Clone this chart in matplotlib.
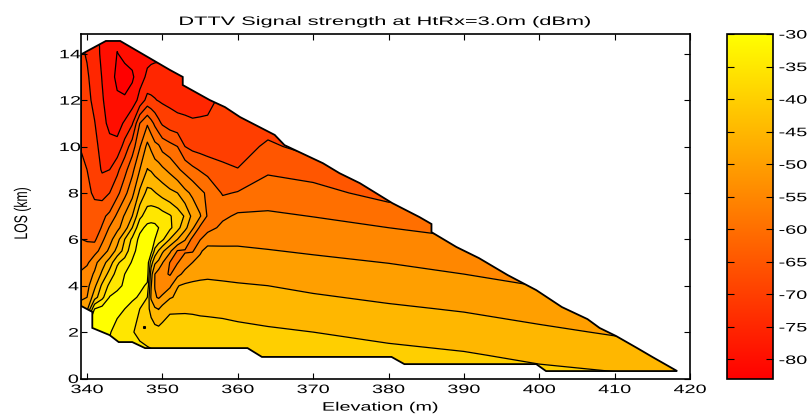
import numpy as np
import matplotlib
matplotlib.use('Agg')
import matplotlib.pyplot as plt
from matplotlib.cm import ScalarMappable
from matplotlib.colors import Normalize
from matplotlib.patches import Polygon
from matplotlib.patheffects import AbstractPathEffect
from matplotlib.transforms import Affine2D

plt.rcParams['font.family'] = ['Liberation Sans', 'DejaVu Sans']

title = 'DTTV Signal strength at HtRx=3.0m (dBm)'
elevation = [339, 340, 341, 342, 343, 344, 345, 346, 347, 348, 348.5, 349, 349.5, 350,
             351, 352, 353, 354, 355, 356, 358, 360, 364, 370, 380, 390, 400, 410, 420]
los = [0, 1, 2, 3, 3.5, 4, 4.5, 5, 5.5, 6, 6.5, 7, 8, 9, 10, 11, 12, 13, 14, 15]

# dBm, one row per entry of los, one column per elevation
signal = [
    [-33, -33, -33, -33, -33, -33, -33, -33, -33, -33, -33, -33, -33, -33,
     -33, -33, -33, -33, -33, -33, -33, -33, -33.3, -34, -35.6, -36.6, -38.2, -39, -39.6],
    [-31, -31, -31, -31, -31, -31, -31, -31, -31, -34, -34, -34, -34, -34.2,
     -34.8, -35.2, -35.4, -35.6, -35.7, -35.8, -36, -36.1, -36.3, -37, -38.5, -39.5, -41.1, -42.4, -44],
    [-27, -27, -27, -27.5, -29.7, -31.4, -33, -34.3, -37.5, -36.6, -37.4, -37.9, -38.2, -37.8,
     -37.3, -37.4, -37.6, -37.7, -37.9, -38, -38.3, -38.7, -39.3, -40, -41.4, -42.5, -44, -45.5, -47],
    [-48, -46.5, -30, -28, -28, -29, -30, -33, -35, -38.5, -41.5, -44.3, -45.2, -43.1,
     -40.8, -40.7, -40.6, -40.7, -40.9, -41, -41.2, -41.6, -42.2, -43, -44.3, -45.4, -47, -49, -50],
    [-51, -50, -42.2, -36.4, -29.7, -27.8, -27.8, -28.5, -31, -35, -45.8, -49.5, -50.5, -49,
     -45.5, -44.2, -42.4, -42.4, -42.4, -42.5, -42.7, -43.1, -43.7, -44.5, -45.8, -47, -48.5, -50.5, -51.5],
    [-53.5, -51.5, -46.2, -39, -33.8, -31.7, -29, -28.3, -28.3, -31, -44.7, -50.2, -54, -53.6,
     -51, -45.2, -44.2, -44.2, -44.1, -44, -44.3, -44.6, -45, -46, -47.2, -48.4, -50.1, -52, -53],
    [-54.5, -52.3, -49.4, -44, -38, -33, -30, -28.3, -27.7, -27.5, -43, -50, -52.5, -53.6,
     -55.5, -51.5, -48.5, -46.5, -46, -45.8, -46, -46.2, -46.7, -47.5, -48.6, -50, -51.6, -53.5, -54.5],
    [-57, -56, -51.5, -47.2, -42.7, -35.8, -32.9, -29.5, -27.5, -27, -37.5, -44.2, -46.2, -49.7,
     -55.2, -55.3, -52.3, -50, -48.7, -47.5, -47.4, -47.8, -48.2, -49, -50.1, -51.5, -53, -55, -56],
    [-58.4, -58, -57, -53, -48.8, -43.4, -38, -31.5, -28, -27, -28, -36.5, -40.4, -44,
     -48.9, -55.3, -55.6, -55.6, -50.6, -48.5, -49.1, -49.3, -49.8, -50.5, -51.6, -53, -54.5, -56.5, -57.5],
    [-59.8, -60.5, -61, -56, -51.8, -47, -40, -34, -28.5, -27, -27.5, -30, -32, -34,
     -40.2, -45, -49.5, -56.5, -55.3, -52, -51.3, -51, -51.3, -52.1, -53.1, -54.7, -56, -58, -59],
    [-60.9, -61.5, -62, -59.7, -54.5, -51.4, -47.5, -40, -31.5, -28.7, -28.5, -29, -30, -31.2,
     -33.9, -38.2, -43.6, -49, -56, -57, -53.7, -52.5, -52.7, -53.6, -55, -56.5, -58, -60, -61],
    [-62, -63, -62.5, -61, -58.9, -53.9, -49.4, -45, -36.2, -32.5, -32, -31.8, -32, -33,
     -34.5, -37.5, -40.5, -46.5, -49.5, -55.6, -56, -54.2, -54.3, -55.1, -57, -58, -60, -62, -63],
    [-63, -63.6, -66, -67, -65, -61.5, -56.5, -51.5, -44, -38.5, -38.7, -39.7, -40.8, -41.9,
     -43.7, -45, -48.7, -51, -53.8, -55.9, -60.5, -59.7, -57.3, -58.2, -62, -62, -64, -66, -66],
    [-64, -65, -67.5, -70.5, -70, -66.2, -61.7, -56.4, -50, -44.8, -45.5, -47, -48, -49,
     -51.3, -54.2, -56.5, -58.8, -60.4, -61.7, -63.5, -64.8, -60.8, -62.2, -66, -66, -68, -68, -68],
    [-65, -66.3, -69, -71.2, -73, -73.5, -67.9, -62.5, -55.4, -48.7, -51, -53.5, -54.3, -56.8,
     -58.4, -60, -65, -66.5, -67, -67.5, -68, -67.5, -64, -67, -68, -70, -70, -70, -70],
    [-67, -68, -69.8, -73, -76.6, -77, -74.3, -70.5, -60, -55.6, -58.3, -61, -63.7, -65.7,
     -67.7, -68.5, -68.8, -69.2, -69, -68.7, -68.3, -68.2, -67.5, -70, -71, -71, -71, -71, -71],
    [-68, -68.7, -71.2, -74.5, -77.3, -79.5, -79.7, -77.6, -73.5, -68.3, -69, -69.7, -70.3, -70.8,
     -71.2, -71.8, -72.2, -72.8, -72.6, -72.4, -68, -68, -68, -72, -72, -72, -72, -72, -72],
    [-68.7, -69.4, -72, -75.2, -78.7, -80.7, -81, -80.8, -76.8, -74.2, -73.5, -73, -72.8, -72.6,
     -72.5, -72.5, -73, -73, -73, -73, -73, -73, -73, -73, -73, -73, -73, -73, -73],
    [-69, -70.4, -73.3, -75.8, -77.6, -80.1, -79.3, -78, -76.8, -76.3, -76.3, -76.3, -76.3, -76,
     -76, -76, -76, -76, -76, -76, -76, -76, -76, -76, -76, -76, -76, -76, -76],
    [-69, -70.5, -73.5, -76, -78, -79, -78, -77, -77, -77, -77, -77, -77, -77,
     -77, -77, -77, -77, -77, -77, -77, -77, -77, -77, -77, -77, -77, -77, -77],
]

# outline of the measured area
outline_x = [339.2, 342.5, 344.4, 351, 352.7, 352.7, 356.3, 358.3, 360.3, 364.9, 366.2, 371.3,
             373.5, 376.2, 380.5, 384.1, 385.7, 385.7, 389, 392, 395.8, 399.6, 403, 406.4, 408,
             410.2, 413, 415, 418.3, 400.9, 399.6, 382.1, 380.4, 363.2, 361.3, 347.7, 346,
             344.2, 343, 340.7, 340.7, 339.2]
outline_y = [13.97, 14.55, 14.55, 13.3, 13.0, 12.65, 12.0, 11.7, 11.27, 10.5, 10.06, 9.28,
             8.85, 8.42, 7.56, 6.96, 6.66, 6.31, 5.67, 5.19, 4.46, 3.81, 3.08, 2.56, 2.18,
             1.83, 1.31, 0.93, 0.32, 0.32, 0.62, 0.62, 0.93, 0.93, 1.31, 1.31, 1.57,
             1.57, 1.87, 2.18, 2.87, 3.13]

levels = [-83, -80, -75, -70, -65, -60, -55, -50, -45, -40, -35, -30, -20]
line_levels = levels[1:-1]
cbar_ticks = [-30, -35, -40, -45, -50, -55, -60, -65, -70, -75, -80]
cbar_labels = ['-30', '-35', '-40', '-45', '-50', '-55', '-60', '-65', '-70', '-75', '-80']
x_ticks = [340, 350, 360, 370, 380, 390, 400, 410, 420]
y_ticks = [0, 2, 4, 6, 8, 10, 12, 14]


class Wide(AbstractPathEffect):
    # the original was resized sideways, so its text is wider than the font
    def __init__(self, sx, sy=1):
        self.sx = sx
        self.sy = sy

    def draw_path(self, renderer, gc, tpath, affine, rgbFace=None):
        box = tpath.get_extents()
        cx = (box.x0 + box.x1) / 2
        cy = (box.y0 + box.y1) / 2
        stretch = Affine2D().translate(-cx, -cy).scale(self.sx, self.sy).translate(cx, cy)
        renderer.draw_path(gc, tpath, stretch + affine, rgbFace)


W, H = 811, 418
fig = plt.figure(figsize=(W / 100, H / 100), dpi=100)
ax = fig.add_axes([81 / W, (H - 378.5) / H, 609 / W, 344.5 / H])

cmap = plt.get_cmap('autumn')
norm = Normalize(-83, -30)
band_colors = [cmap(norm(v)) for v in levels[:-1]]

X, Y = np.meshgrid(elevation, los)
Z = np.array(signal)
edge = Polygon(np.column_stack([outline_x, outline_y]), closed=True, facecolor='none',
               edgecolor='black', linewidth=1.3, zorder=4)
ax.add_patch(edge)
fill = ax.contourf(X, Y, Z, levels=levels, colors=band_colors)
lines = ax.contour(X, Y, Z, levels=line_levels, colors='black', linewidths=0.9,
                   linestyles='solid')
fill.set_clip_path(edge)
lines.set_clip_path(edge)
ax.plot([347.6], [2.2], marker='s', markersize=1.2, color='black', zorder=3)

ax.set_xlim(339.2, 420)
ax.set_ylim(0, 14.85)
ax.set_xticks(x_ticks)
ax.set_yticks(y_ticks)
ax.tick_params(direction='in', top=True, right=True, length=4, width=0.8,
               labelsize=8.8, pad=3)
ax.tick_params(axis='x', pad=4)
for spine in ax.spines.values():
    spine.set_linewidth(1.2)
ax.set_title(title, fontsize=8.8, pad=6.5)
ax.set_xlabel('Elevation (m)', fontsize=8.8, labelpad=4, x=0.492)
ax.set_ylabel('LOS (km)', fontsize=8.8, labelpad=25, y=0.48)

# colorbar
cax = fig.add_axes([727 / W, (H - 379) / H, 46 / W, 345 / H])
cb = fig.colorbar(ScalarMappable(norm=norm, cmap=cmap), cax=cax, ticks=cbar_ticks)
cb.ax.set_yticklabels(cbar_labels)
cb.outline.set_linewidth(1.2)
cb.ax.tick_params(direction='in', left=True, right=True, length=5, width=0.8,
                  labelsize=8.8, pad=8)

wide = [Wide(1.62)]
for t in ax.get_xticklabels() + ax.get_yticklabels() + cb.ax.get_yticklabels():
    t.set_path_effects(wide)
ax.title.set_path_effects([Wide(1.78)])
ax.xaxis.label.set_path_effects(wide)
ax.yaxis.label.set_path_effects([Wide(1, 1.5)])

fig.savefig('out.png', dpi=100)
